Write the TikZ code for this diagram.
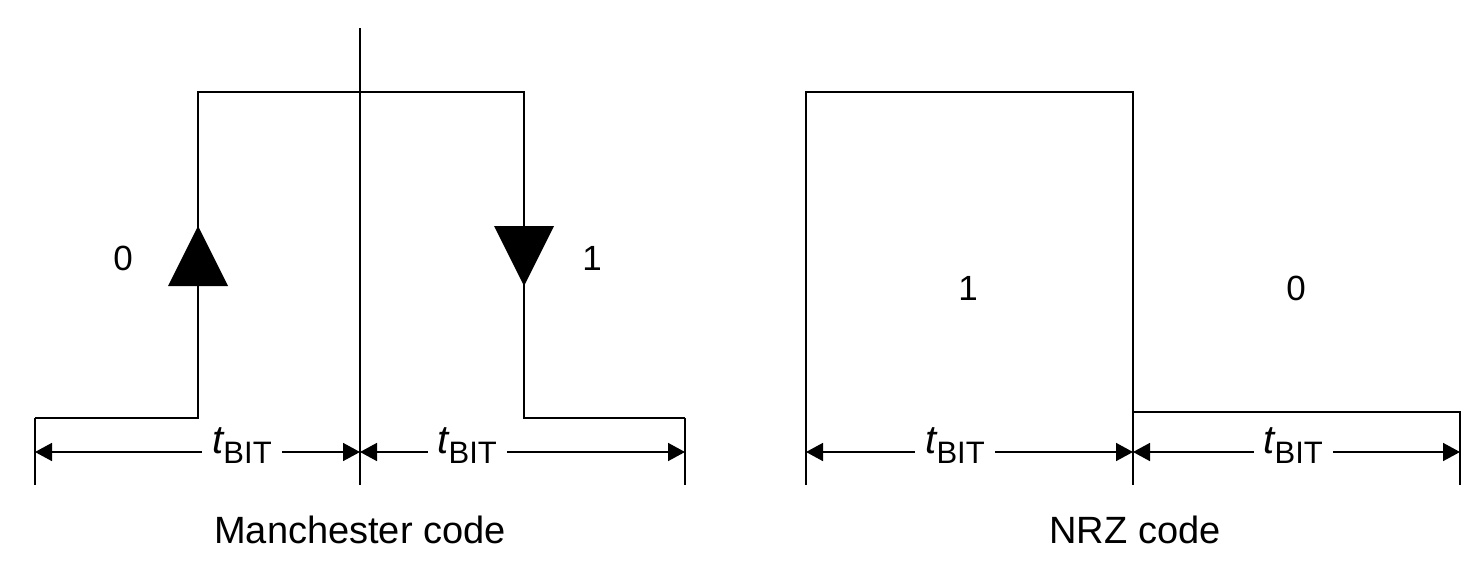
\documentclass[tikz,border=0pt]{standalone}
\usepackage{fontspec}
\setmainfont{Liberation Sans}
\usetikzlibrary{arrows.meta}
\newcommand\tbit{{\fontsize{20}{22}\selectfont\itshape t}\raisebox{-5pt}{\fontsize{15.5}{17}\selectfont BIT}}
\begin{document}
\begin{tikzpicture}[x=0.5pt,y=-0.5pt,
  sig/.style={line width=1pt},
  ext/.style={line width=0.9pt},
  dim/.style={line width=0.8pt,{Triangle[length=8.5pt,width=9pt]}-{Triangle[length=8.5pt,width=9pt]}},
  tb/.style={fill=white,inner xsep=5pt,inner ysep=1.5pt,yshift=3pt},
  digit/.style={font=\fontsize{17.5}{20}\selectfont},
  caption/.style={font=\fontsize{19}{22}\selectfont},
  tmark/.style={fill=black}]
\useasboundingbox (0,0) rectangle (1477,562);
% Manchester coordinates
\coordinate (m0) at (35,418);
\coordinate (m1) at (198,418);
\coordinate (m2) at (198,92);
\coordinate (m3) at (524,92);
\coordinate (m4) at (524,418);
\coordinate (m5) at (685,418);
\coordinate (mL) at (35,485);
\coordinate (mR) at (685,485);
\coordinate (cT) at (360,28);
\coordinate (cB) at (360,485);
\coordinate (dL) at (35,452);
\coordinate (dM) at (360,452);
\coordinate (dR) at (685,452);
\draw[sig] (m0) -- (m1) -- (m2) -- (m3) -- (m4) -- (m5);
\draw[ext] (m0) -- (mL);
\draw[ext] (m5) -- (mR);
\draw[ext] (cT) -- (cB);
% transition marks
\fill[tmark] (198,226) -- (228,286) -- (168,286) -- cycle;
\fill[tmark] (524,286) -- (554,226) -- (494,226) -- cycle;
\node[digit] (zero) at (123,258) {0};
\node[digit] (one) at (592,258) {1};
\draw[dim] (dL) -- (dM) node[tb,pos=0.637] (t1) {\tbit};
\draw[dim] (dM) -- (dR) node[tb,pos=0.33] (t2) {\tbit};
\node[caption] (mc) at (360,530) {Manchester code};
% NRZ coordinates
\coordinate (n0) at (806,485);
\coordinate (n1) at (806,92);
\coordinate (n2) at (1133,92);
\coordinate (n3) at (1133,485);
\coordinate (n4) at (1133,412);
\coordinate (n5) at (1460,412);
\coordinate (n6) at (1460,485);
\coordinate (eL) at (806,452);
\coordinate (eM) at (1133,452);
\coordinate (eR) at (1460,452);
\draw[sig] (n0) -- (n1) -- (n2) -- (n3);
\draw[sig] (n4) -- (n5) -- (n6);
\node[digit] (nOne) at (968,288) {1};
\node[digit] (nZero) at (1296,288) {0};
\draw[dim] (eL) -- (eM) node[tb,pos=0.456] (t3) {\tbit};
\draw[dim] (eM) -- (eR) node[tb,pos=0.49] (t4) {\tbit};
\node[caption] (nc) at (1135,530) {NRZ code};
\end{tikzpicture}
\end{document}
